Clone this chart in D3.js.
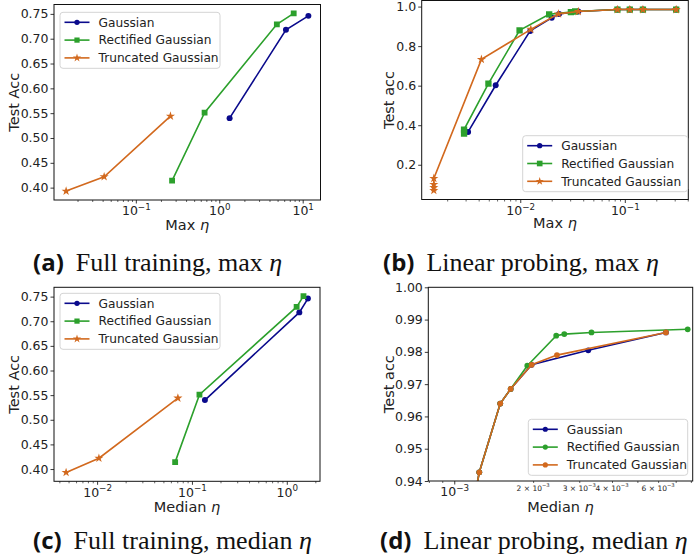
<!DOCTYPE html>
<html>
<head>
<meta charset="utf-8">
<script src="https://cdn.jsdelivr.net/npm/d3@7"></script>
<style>
body { margin: 0; background: #fff; }
</style>
</head>
<body>
<script>
var width = 695;
var height = 555;

var names = ["Gaussian", "Rectified Gaussian", "Truncated Gaussian"];
var colors = ["#0a0a8c", "#2ca02c", "#d2691e"];

// (a) full training, max eta
var aGaussX = [1.33, 6.3, 11.7];
var aGaussY = [0.540, 0.718, 0.746];
var aRectX = [0.272, 0.667, 4.9, 7.8];
var aRectY = [0.414, 0.551, 0.729, 0.751];
var aTruncX = [0.0146, 0.0417, 0.26];
var aTruncY = [0.393, 0.422, 0.544];

// (b) linear probing, max eta
var bGaussX = [0.00317, 0.00582, 0.01245, 0.020, 0.0235, 0.0359, 0.085, 0.1116, 0.149, 0.31];
var bGaussY = [0.366, 0.602, 0.877, 0.943, 0.963, 0.975, 0.985, 0.985, 0.985, 0.985];
var bRectX = [0.0029, 0.0029, 0.00496, 0.00985, 0.0189, 0.0305, 0.0335, 0.085, 0.1116, 0.149, 0.31];
var bRectY = [0.358, 0.378, 0.610, 0.880, 0.961, 0.972, 0.975, 0.985, 0.985, 0.985, 0.985];
var bTruncX = [0.00149, 0.00149, 0.00149, 0.00149, 0.00425, 0.01262, 0.0232, 0.0359, 0.085, 0.1116, 0.149, 0.31];
var bTruncY = [0.070, 0.085, 0.100, 0.131, 0.733, 0.885, 0.963, 0.975, 0.985, 0.985, 0.985, 0.985];

// (c) full training, median eta
var cGaussX = [0.137, 1.356, 1.67];
var cGaussY = [0.540, 0.718, 0.746];
var cRectX = [0.0665, 0.120, 1.27, 1.50];
var cRectY = [0.414, 0.551, 0.729, 0.751];
var cTruncX = [0.00471, 0.01045, 0.0711];
var cTruncY = [0.393, 0.422, 0.544];

// (d) linear probing, median eta
var dGaussX = [0.00089, 0.001246, 0.001498, 0.001641, 0.001974, 0.003247, 0.006427];
var dGaussY = [0.880, 0.9427, 0.9640, 0.9685, 0.9760, 0.9805, 0.9860];
var dRectX = [0.00089, 0.001246, 0.001498, 0.001641, 0.0019, 0.00245, 0.00263, 0.00334, 0.00778];
var dRectY = [0.880, 0.9427, 0.9640, 0.9685, 0.9757, 0.9850, 0.9855, 0.9860, 0.9870];
var dTruncX = [0.00089, 0.001246, 0.001498, 0.001641, 0.001974, 0.002466, 0.006427];
var dTruncY = [0.880, 0.9427, 0.9640, 0.9685, 0.9760, 0.9790, 0.9860];

var yTicksFull = [0.40, 0.45, 0.50, 0.55, 0.60, 0.65, 0.70, 0.75];
var yTicksLinMax = [0.2, 0.4, 0.6, 0.8, 1.0];
var yTicksLinMed = [0.94, 0.95, 0.96, 0.97, 0.98, 0.99, 1.00];
var dMinorLabels = [0.002, 0.003, 0.004, 0.006];

var captions = [
    ["(a)", "Full training, max "],
    ["(b)", "Linear probing, max "],
    ["(c)", "Full training, median "],
    ["(d)", "Linear probing, median "]
];

var svg = d3.select("body")
    .append("svg")
    .attr("width", width)
    .attr("height", height)
    .style("font-family", "'DejaVu Sans', sans-serif");

svg.append("rect").attr("width", width).attr("height", height).attr("fill", "#fff");

function zip(xs, ys) {
    return xs.map(function(x, i) { return [x, ys[i]]; });
}

// matplotlib style autoscale: 5% margin, in log space for x
function padLog(xs) {
    var lo = Math.log10(d3.min(xs)), hi = Math.log10(d3.max(xs)), m = (hi - lo) * 0.05;
    return [Math.pow(10, lo - m), Math.pow(10, hi + m)];
}
function padLin(ys) {
    var lo = d3.min(ys), hi = d3.max(ys), m = (hi - lo) * 0.05;
    return [lo - m, hi + m];
}

function powLabel(sel, base, exp, size) {
    sel.append("tspan").text(base);
    sel.append("tspan")
        .attr("dy", -size * 0.42)
        .style("font-size", (size * 0.7) + "px")
        .text(exp);
}

var clipId = 0;

function drawPanel(cfg) {
    var box = cfg.box;
    var x = d3.scaleLog().domain(cfg.xDomain).range([box.l, box.r]);
    var y = d3.scaleLinear().domain(cfg.yDomain).range([box.b, box.t]);
    var g = svg.append("g");

    // log ticks
    var lo = Math.floor(Math.log10(cfg.xDomain[0])), hi = Math.ceil(Math.log10(cfg.xDomain[1]));
    var majors = [], minors = [];
    for (var e = lo; e <= hi; e++) {
        var p = Math.pow(10, e);
        if (p >= cfg.xDomain[0] && p <= cfg.xDomain[1]) majors.push(e);
        for (var k = 2; k < 10; k++) {
            var v = k * p;
            if (v >= cfg.xDomain[0] && v <= cfg.xDomain[1]) minors.push(v);
        }
    }

    g.append("g")
        .attr("transform", "translate(0," + box.b + ")")
        .call(d3.axisBottom(x).tickValues(minors).tickSize(2).tickFormat(""))
        .call(function(a) { a.select(".domain").remove(); a.selectAll("line").attr("stroke", "#222").attr("stroke-width", 0.7); });

    var xa = g.append("g")
        .attr("transform", "translate(0," + box.b + ")")
        .call(d3.axisBottom(x).tickValues(majors.map(function(e) { return Math.pow(10, e); }))
            .tickSize(3.5).tickPadding(3).tickFormat(""));
    xa.select(".domain").remove();
    xa.selectAll("line").attr("stroke", "#222").attr("stroke-width", 0.9);
    xa.selectAll(".tick text").each(function(d) {
        var t = d3.select(this)
            .attr("fill", "#222")
            .style("font-size", "12.5px")
            .attr("dy", "0.7em");
        var e = Math.round(Math.log10(d));
        powLabel(t, "10", (e < 0 ? "\u2212" : "") + Math.abs(e), 12.5);
    });

    if (cfg.minorLabels) {
        g.selectAll(".minlab")
            .data(cfg.minorLabels)
            .enter().append("text")
            .attr("x", function(d) { return x(d); })
            .attr("y", box.b + 9.5)
            .attr("text-anchor", "middle")
            .attr("fill", "#222")
            .style("font-size", "7.5px")
            .each(function(d) {
                var t = d3.select(this);
                var e = Math.floor(Math.log10(d) + 1e-9);
                var m = Math.round(d / Math.pow(10, e));
                powLabel(t, m + " \u00d7 10", "\u2212" + Math.abs(e), 7.5);
            });
    }

    var ya = g.append("g")
        .attr("transform", "translate(" + box.l + ",0)")
        .call(d3.axisLeft(y).tickValues(cfg.yTicks).tickSize(3.5).tickPadding(2).tickFormat(d3.format(cfg.yFormat)));
    ya.select(".domain").remove();
    ya.selectAll("line").attr("stroke", "#222").attr("stroke-width", 0.9);
    ya.selectAll("text").attr("fill", "#222").style("font-size", "12.5px").style("font-family", "'DejaVu Sans', sans-serif");
    xa.selectAll("text").style("font-family", "'DejaVu Sans', sans-serif");

    // axis labels
    g.append("text")
        .attr("x", (box.l + box.r) / 2)
        .attr("y", cfg.xLabelY)
        .attr("text-anchor", "middle")
        .attr("fill", "#222")
        .style("font-size", "14.5px")
        .call(function(t) {
            t.append("tspan").text(cfg.xLabel + " ");
            t.append("tspan").style("font-style", "italic").text("\u03b7");
        });
    g.append("text")
        .attr("transform", "translate(" + cfg.yLabelX + "," + ((box.t + box.b) / 2) + ") rotate(-90)")
        .attr("text-anchor", "middle")
        .attr("fill", "#222")
        .style("font-size", "14.5px")
        .text(cfg.yLabel);

    // lines and markers
    clipId++;
    svg.append("clipPath").attr("id", "clip" + clipId)
        .append("rect")
        .attr("x", box.l).attr("y", box.t)
        .attr("width", box.r - box.l).attr("height", box.b - box.t);
    var plot = g.append("g").attr("clip-path", "url(#clip" + clipId + ")");

    var line = d3.line()
        .x(function(d) { return x(d[0]); })
        .y(function(d) { return y(d[1]); });

    cfg.series.forEach(function(s, i) {
        plot.append("path")
            .datum(s)
            .attr("d", line)
            .attr("fill", "none")
            .attr("stroke", colors[i])
            .attr("stroke-width", 1.6);
        plot.selectAll(".m" + i)
            .data(s)
            .enter().append("path")
            .attr("transform", function(d) { return "translate(" + x(d[0]) + "," + y(d[1]) + ")"; })
            .attr("d", d3.symbol().type(cfg.symbols[i]).size(cfg.symbolSizes[i]))
            .attr("fill", colors[i]);
    });

    // frame
    g.append("rect")
        .attr("x", box.l).attr("y", box.t)
        .attr("width", box.r - box.l).attr("height", box.b - box.t)
        .attr("fill", "none")
        .attr("stroke", "#111")
        .attr("stroke-width", 1);

    // legend
    var lg = cfg.legend;
    var leg = g.append("g").attr("transform", "translate(" + lg.x + "," + lg.y + ")");
    leg.append("rect")
        .attr("width", lg.w).attr("height", 56)
        .attr("rx", 3)
        .attr("fill", "#fff").attr("fill-opacity", 0.8)
        .attr("stroke", "#d4d4d4").attr("stroke-width", 1);
    names.forEach(function(n, i) {
        var yy = 10 + i * 17.8;
        leg.append("line")
            .attr("x1", 4.5).attr("x2", 29.5)
            .attr("y1", yy).attr("y2", yy)
            .attr("stroke", colors[i]).attr("stroke-width", 1.6);
        leg.append("path")
            .attr("transform", "translate(17," + yy + ")")
            .attr("d", d3.symbol().type(cfg.symbols[i]).size(cfg.symbolSizes[i] * 0.8))
            .attr("fill", colors[i]);
        leg.append("text")
            .attr("x", 38.5).attr("y", yy)
            .attr("dy", "0.36em")
            .attr("fill", "#222")
            .style("font-size", "12.2px")
            .text(n);
    });
}

var symsA = [d3.symbolCircle, d3.symbolSquare, d3.symbolStar];
var sizesA = [28, 34, 26];

drawPanel({
    box: {l: 54, r: 320.5, t: 4.5, b: 200},
    xDomain: padLog(aGaussX.concat(aRectX, aTruncX)),
    yDomain: padLin(aGaussY.concat(aRectY, aTruncY)),
    yTicks: yTicksFull, yFormat: ".2f",
    series: [zip(aGaussX, aGaussY), zip(aRectX, aRectY), zip(aTruncX, aTruncY)],
    symbols: symsA, symbolSizes: sizesA,
    xLabel: "Max", xLabelY: 229.5, yLabel: "Test Acc", yLabelX: 18.5,
    legend: {x: 60, y: 12.3, w: 160}
});

drawPanel({
    box: {l: 421.7, r: 688.3, t: 0.5, b: 199.5},
    xDomain: padLog(bGaussX.concat(bRectX, bTruncX)),
    yDomain: padLin(bGaussY.concat(bRectY, bTruncY)),
    yTicks: yTicksLinMax, yFormat: ".1f",
    series: [zip(bGaussX, bGaussY), zip(bRectX, bRectY), zip(bTruncX, bTruncY)],
    symbols: symsA, symbolSizes: [28, 40, 26],
    xLabel: "Max", xLabelY: 228, yLabel: "Test acc", yLabelX: 393.5,
    legend: {x: 522.7, y: 135.7, w: 165}
});

drawPanel({
    box: {l: 54, r: 320, t: 287.3, b: 481.3},
    xDomain: padLog(cGaussX.concat(cRectX, cTruncX)),
    yDomain: padLin(cGaussY.concat(cRectY, cTruncY)),
    yTicks: yTicksFull, yFormat: ".2f",
    series: [zip(cGaussX, cGaussY), zip(cRectX, cRectY), zip(cTruncX, cTruncY)],
    symbols: symsA, symbolSizes: sizesA,
    xLabel: "Median", xLabelY: 512, yLabel: "Test Acc", yLabelX: 18.5,
    legend: {x: 60, y: 293.3, w: 160}
});

drawPanel({
    box: {l: 428.3, r: 692.7, t: 287.3, b: 481},
    xDomain: [0.000796, 0.00813],
    yDomain: [0.94, 1.0],
    yTicks: yTicksLinMed, yFormat: ".2f",
    minorLabels: dMinorLabels,
    series: [zip(dGaussX, dGaussY), zip(dRectX, dRectY), zip(dTruncX, dTruncY)],
    symbols: [d3.symbolCircle, d3.symbolCircle, d3.symbolCircle], symbolSizes: [26, 26, 26],
    xLabel: "Median", xLabelY: 512, yLabel: "Test acc", yLabelX: 393.5,
    legend: {x: 528.3, y: 419.3, w: 159.4}
});

// sub-figure captions
var capPos = [[33, 271], [383, 271], [33, 549], [380, 549]];
captions.forEach(function(c, i) {
    var t = svg.append("text")
        .attr("x", capPos[i][0])
        .attr("y", capPos[i][1])
        .attr("fill", "#111");
    t.append("tspan")
        .style("font-family", "'Open Sans', sans-serif")
        .style("font-weight", "bold")
        .style("font-size", "24px")
        .text(c[0]);
    t.append("tspan")
        .attr("dx", 12)
        .style("font-family", "'Liberation Serif', serif")
        .style("font-size", "26px")
        .text(c[1]);
    t.append("tspan")
        .style("font-family", "'Liberation Serif', serif")
        .style("font-style", "italic")
        .style("font-size", "26px")
        .text("\u03b7");
});
</script>
</body>
</html>
